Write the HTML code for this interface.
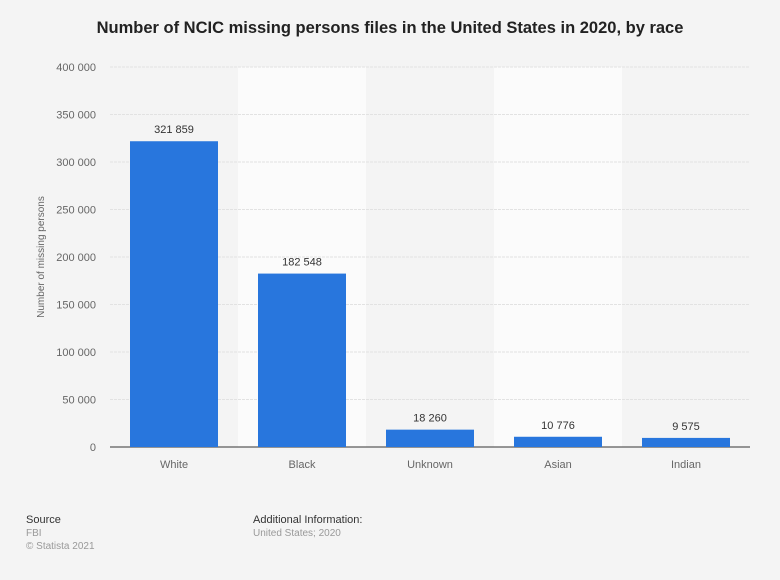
<!DOCTYPE html>
<html><head><meta charset="utf-8"><style>
body{margin:0;background:#f4f4f4;font-family:"Liberation Sans",sans-serif;}
svg{display:block}
</style></head><body>
<svg id="c" width="780" height="580">
<text x="390" y="33" text-anchor="middle" font-size="16.5" font-weight="bold" fill="#222">Number of NCIC missing persons files in the United States in 2020, by race</text>
<g id="bands"></g><g id="grid"></g><g id="bars"></g>
<text transform="translate(44,257) rotate(-90)" text-anchor="middle" font-size="10" fill="#666">Number of missing persons</text>
<text x="26" y="523" font-size="11" fill="#333">Source</text>
<text x="26" y="536" font-size="10" fill="#999">FBI</text>
<text x="26" y="549" font-size="10" fill="#999">© Statista 2021</text>
<text x="253" y="523" font-size="11" fill="#333">Additional Information:</text>
<text x="253" y="536" font-size="10" fill="#999">United States; 2020</text>
</svg>
<script>
const categories=["White","Black","Unknown","Asian","Indian"];
const values=[321859,182548,18260,10776,9575];
const valueLabels=["321 859","182 548","18 260","10 776","9 575"];
const yTicks=[0,50000,100000,150000,200000,250000,300000,350000,400000];
const yTickLabels=["0","50 000","100 000","150 000","200 000","250 000","300 000","350 000","400 000"];
const NS="http://www.w3.org/2000/svg";
const x0=110,x1=750,yTop=67,yBot=447,yMax=400000;
const band=(x1-x0)/categories.length;
const y=v=>yBot-(v/yMax)*(yBot-yTop);
const xb=i=>x0+i*band;
function mk(p,t,a){const e=document.createElementNS(NS,t);for(const k in a)e.setAttribute(k,a[k]);document.getElementById(p).appendChild(e);return e;}
categories.forEach((c,i)=>{if(i%2==1){const r=mk("bands","rect",{x:xb(i),y:yTop,width:band,height:yBot-yTop,fill:"#fbfbfb"});

}});
yTicks.forEach((t,i)=>{
const l=mk("grid","line",{x1:x0,x2:x1,y1:y(t),y2:y(t),stroke:i==0?"#333":"#e2e2e2","stroke-width":1,"stroke-dasharray":i==0?"":"3,1"});


const tx=mk("grid","text",{x:96,y:y(t)+4,"text-anchor":"end","font-size":11,fill:"#666"});tx.textContent=yTickLabels[i];

});
categories.forEach((c,i)=>{
const bx=xb(i)+20,bw=band-40;
const r=mk("bars","rect",{x:bx,y:y(values[i]),width:bw,height:yBot-y(values[i]),fill:"#2876dd"});


const vl=mk("bars","text",{x:bx+bw/2,y:y(values[i])-8,"text-anchor":"middle","font-size":11,fill:"#333"});vl.textContent=valueLabels[i];


const cl=mk("bars","text",{x:bx+bw/2,y:468,"text-anchor":"middle","font-size":11,fill:"#666"});cl.textContent=c;

});
</script>
</body></html>
